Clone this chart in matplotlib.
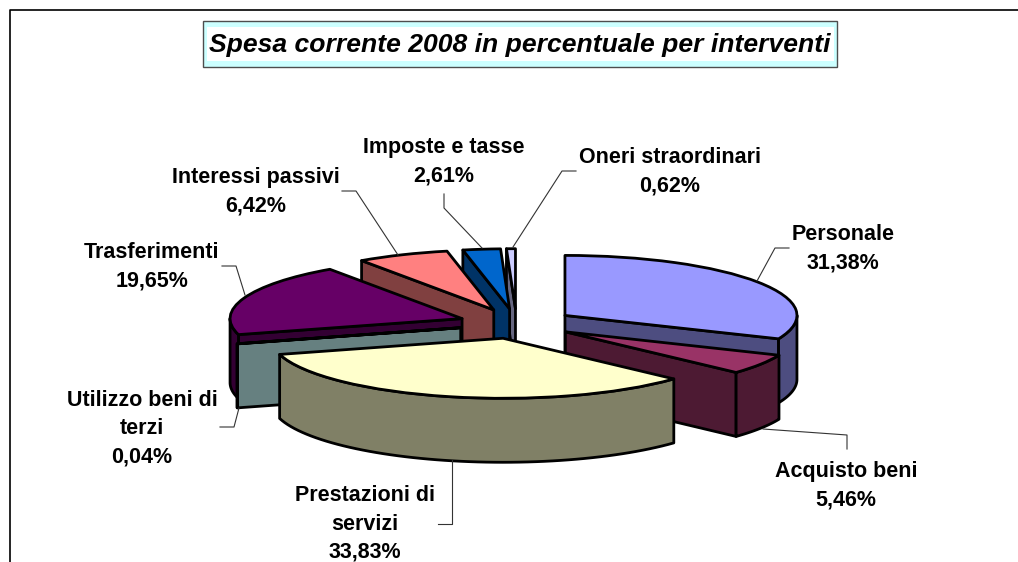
"""Exploded 3D style pie: spesa corrente 2008 per interventi."""

import matplotlib

matplotlib.use("Agg")
import matplotlib.pyplot as plt
import numpy as np
from matplotlib.colors import to_rgb
from matplotlib.lines import Line2D
from matplotlib.patches import Polygon, Rectangle

# --------------------------------------------------
# data
# --------------------------------------------------
categories = [
    "Personale",
    "Acquisto beni",
    "Prestazioni di\nservizi",
    "Utilizzo beni di\nterzi",
    "Trasferimenti",
    "Interessi passivi",
    "Imposte e tasse",
    "Oneri straordinari",
]
values = [31.38, 5.46, 33.83, 0.04, 19.65, 6.42, 2.61, 0.62]
top_colors = ["#9999FF", "#993366", "#FFFFCC", "#CCFFFF", "#660066", "#FF8080", "#0066CC", "#CCCCFF"]
title = "Spesa corrente 2008 in percentuale per interventi"

# --------------------------------------------------
# layout, in pixels of the 1018x562 picture
# --------------------------------------------------
W, H = 1018, 562
CX, CY = 516.6, 323.7  # pie centre
RX, RY = 232.0, 60.0  # pixels per unit radius
DEPTH = 64.0 / RY
EDGE = 2.0

label_pos = [(843, 249), (846, 486), (365, 524), (142, 429), (152, 267), (256, 192), (444, 162), (670, 172)]
leaders = [
    [(757, 281), (775, 248), (789, 248)],
    [(763, 429), (847, 435), (847, 449)],
    [(452, 460), (452, 524), (438, 524)],
    [(239, 408), (234, 427), (220, 427)],
    [(245, 295), (236, 266), (222, 266)],
    [(398, 255), (356, 191), (342, 191)],
    [(482, 248), (444, 208), (444, 194)],
    [(513, 247), (562, 171), (576, 171)],
]


def fx(px):
    return px / W


def fy(py):
    return 1 - py / H


def arc(center, r, t1, t2, n=60):
    t = np.radians(np.linspace(t1, t2, n))
    return np.column_stack([center[0] + r * np.cos(t), center[1] + r * np.sin(t)])


def add_wall(ax, pts, color, z):
    ax.add_patch(Polygon(pts, closed=True, facecolor=color, edgecolor="black",
                         linewidth=EDGE, joinstyle="round", zorder=z))


fig = plt.figure(figsize=(W / 100, H / 100), dpi=100, facecolor="white")
plt.rcParams["font.family"] = ["Liberation Sans", "DejaVu Sans"]
ax = fig.add_axes([0, 0, 1, 1])

# flat pie first, squashed afterwards through the axis limits
wedges, _ = ax.pie(
    values,
    colors=top_colors,
    explode=[0.25] * len(values),
    startangle=90,
    counterclock=False,
    radius=1,
    wedgeprops={"edgecolor": "black", "linewidth": EDGE, "joinstyle": "round"},
)
ax.set_aspect("auto")
ax.set_xlim(-CX / RX, (W - CX) / RX)
ax.set_ylim((CY - H) / RY, CY / RY)
ax.axis("off")

# --------------------------------------------------
# walls: paint back to front
# --------------------------------------------------
order = sorted(range(len(wedges)), key=lambda i: -wedges[i].center[1])
for z, i in enumerate(order):
    w = wedges[i]
    c = np.array(w.center)
    wall = tuple(0.5 * v for v in to_rgb(top_colors[i]))
    down = np.array([0, -DEPTH])
    w.set_zorder(2 * z + 1.5)

    # radial faces towards the viewer
    for theta, visible in ((w.theta2, np.cos(np.radians(w.theta2)) < 0), (w.theta1, np.cos(np.radians(w.theta1)) > 0)):
        if visible:
            tip = arc(c, w.r, theta, theta, 1)[0]
            add_wall(ax, [c, tip, tip + down, c + down], wall, 2 * z + 1.2)

    # rim, only the front half shows
    lo, hi = max(w.theta1, -180), min(w.theta2, 0)
    if lo < hi:
        rim = arc(c, w.r, lo, hi)
        add_wall(ax, np.vstack([rim, (rim + down)[::-1]]), wall, 2 * z + 1.3)

# --------------------------------------------------
# frame, title, labels
# --------------------------------------------------
fig.add_artist(Line2D([fx(10), fx(10), fx(W)], [fy(H), fy(10), fy(10)], color="black", lw=1.2))

fig.add_artist(Rectangle((fx(203), fy(67)), fx(634), 46 / H, facecolor="#CCFFFF", edgecolor="#4D4D4D", lw=1.0))
fig.add_artist(Rectangle((fx(207), fy(61)), fx(627), 34 / H, facecolor="white", edgecolor="none"))
fig.text(fx(519.5), fy(45), title, ha="center", va="center", fontsize=19.05,
         fontweight="bold", fontstyle="italic", color="black")

for name, val, pos, pts in zip(categories, values, label_pos, leaders):
    txt = f"{val:.2f}".replace(".", ",")
    fig.text(fx(pos[0]), fy(pos[1]), f"{name}\n{txt}%", ha="center", va="center",
             fontsize=15.5, fontweight="bold", color="black", linespacing=1.45)
    xs, ys = zip(*pts)
    fig.add_artist(Line2D([fx(p) for p in xs], [fy(p) for p in ys], color="#333333", lw=0.8))

fig.savefig("out.png", dpi=100)
